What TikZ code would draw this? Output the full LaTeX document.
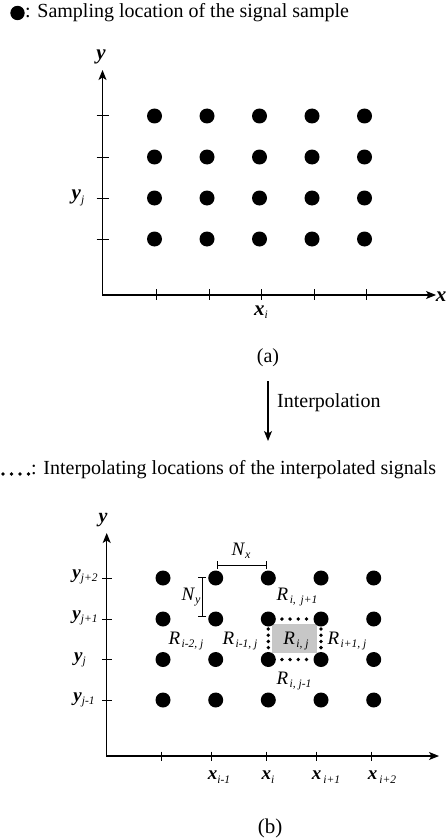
\documentclass[tikz,border=0pt]{standalone}
\usepackage{fontspec}
\setmainfont{Liberation Serif}
\usetikzlibrary{arrows.meta,calc}
\newcommand{\Rlab}[1]{\textit{R}\kern1.5pt\raisebox{-3.5pt}{\fontsize{11.5}{12}\selectfont\textit{#1}}}
\newcommand{\axlab}[2]{\textbf{\textit{#1}}\raisebox{-3.5pt}{\fontsize{11.5}{12}\selectfont\textit{#2}}}
\tikzset{
  sdot/.style={circle,fill=black,inner sep=0pt,minimum size=15pt},
  axisline/.style={line width=1.1pt,{Stealth[length=10pt,width=8pt,inset=2.5pt]}-{Stealth[length=10pt,width=8pt,inset=2.5pt]}},
  tickline/.style={line width=1pt},
  txt/.style={inner sep=0pt,font=\fontsize{20}{22}\selectfont},
  axl/.style={inner sep=0pt,font=\fontsize{19}{20}\selectfont},
  rl/.style={inner sep=0pt,font=\fontsize{19}{20}\selectfont},
  dotline/.style={line width=3.8pt,line cap=round,dash pattern=on 0pt off 8.2pt},
  vdotline/.style={line width=3.8pt,line cap=round,dash pattern=on 0pt off 6.2pt},
  brk/.style={line width=1pt,{Bar[width=8pt]}-{Bar[width=8pt]}}
}
\begin{document}
\begin{tikzpicture}[x=1pt,y=-1pt]
\useasboundingbox (0,0) rectangle (446,840);
% legend 1
\fill (17.5,13) circle (7.2pt);
\node[txt,anchor=west] (leg1) at (25,13) {: Sampling location of the signal sample};
% ---------------- panel (a)
\foreach \c/\x in {1/154.5,2/207,3/259.5,4/312,5/364.5}
  \foreach \r/\y in {1/116,2/157,3/198,4/239}
    \node[sdot] (a\c\r) at (\x,\y) {};
\coordinate (aO) at (102.5,295);
\coordinate (aY) at (102.5,70);
\coordinate (aX) at (436,295);
\draw[axisline] (aY) |- (aX);
\foreach \r in {1,...,4}
  \draw[tickline] ($(aO |- a1\r)+(-6,0)$) -- ++(12,0);
\foreach \c in {1,...,5}
  \draw[tickline] ($(a\c1 |- aO)+(2,-6)$) -- ++(0,11);
\node[axl,font=\fontsize{21}{22}\selectfont] (ay) at (101,57) {\textbf{\textit{y}}};
\node[axl,font=\fontsize{21}{22}\selectfont] (ax) at (441,297) {\textbf{\textit{x}}};
\node[axl,font=\fontsize{21}{22}\selectfont] (ayj) at (78,198) {\axlab{y}{j}};
\node[axl,font=\fontsize{21}{22}\selectfont] (axi) at (261,312) {\axlab{x}{i}};
\node[txt] (capa) at (268,358) {(a)};
% interpolation arrow
\coordinate (iA) at (268,381);
\coordinate (iB) at (268,441);
\draw[line width=1.1pt,-{Stealth[length=10pt,width=8pt,inset=2.5pt]}] (iA) -- (iB);
\node[txt,anchor=west] (interp) at (277,403) {Interpolation};
% legend 2
\foreach \k/\x in {1/3,2/11.5,3/20,4/28.5}
  \fill (\x,474) circle (1.9pt);
\node[txt,anchor=west] (leg2) at (31,470) {: Interpolating locations of the interpolated signals};
% ---------------- panel (b)
\fill[black!22] (271.7,624) rectangle (316.7,652.7);
\foreach \c/\x in {1/163,2/215.7,3/268.3,4/321,5/373.7}
  \foreach \r/\y in {1/578,2/619,3/659.5,4/700}
    \node[sdot] (b\c\r) at (\x,\y) {};
\coordinate (bO) at (106.7,756);
\coordinate (bY) at (106.7,533);
\coordinate (bX) at (439,756);
\draw[axisline] (bY) |- (bX);
\foreach \r in {1,...,4}
  \draw[tickline] ($(bO |- b1\r)+(-4.5,0)$) -- ++(9.5,0);
\foreach \c/\x in {1/161.7,2/211.7,3/266.7,4/316.7,5/371.7}
  \draw[tickline] (\x,751.5) -- ++(0,9.5);
\node[axl,font=\fontsize{20}{22}\selectfont] (by) at (103,520) {\textbf{\textit{y}}};
\node[axl] (byj2) at (85,577) {\axlab{y}{j+2}};
\node[axl] (byj1) at (85,618) {\axlab{y}{j+1}};
\node[axl] (byj0) at (80,660) {\axlab{y}{j}};
\node[axl] (byjm) at (84,700) {\axlab{y}{j-1}};
\node[axl] (bxm) at (219,777) {\axlab{x}{i-1}};
\node[axl] (bxi) at (268,777) {\axlab{x}{i}};
\node[axl] (bxp) at (326,777) {\axlab{x}{\,i+1}};
\node[axl] (bxq) at (382,777) {\axlab{x}{\,i+2}};
\node[txt,font=\fontsize{21}{22}\selectfont] (capb) at (270,828) {(b)};
% dotted interpolation lines
\draw[dotline,shorten <=5.9pt,shorten >=6.3pt] (b32) -- (b42);
\draw[dotline,shorten <=5.9pt,shorten >=6.3pt] (b33) -- (b43);
\draw[vdotline,shorten <=2.3pt,shorten >=3.5pt] (b32) -- (b33);
\draw[vdotline,shorten <=2.3pt,shorten >=3.5pt] (b42) -- (b43);
% Nx, Ny brackets
\draw[brk] ($(b21)+(1,-13)$) -- ($(b31)+(-1.5,-13)$);
\node[rl] (nx) at (241,551) {\textit{N}\raisebox{-3pt}{\fontsize{12}{12}\selectfont\textit{x}}};
\draw[brk] ($(b21)+(-13.4,-1)$) -- ($(b22)+(-13.4,-2)$);
\node[rl] (ny) at (191,597) {\textit{N}\raisebox{-3pt}{\fontsize{12}{12}\selectfont\textit{y}}};
% region labels
\node[rl] (r1) at (297,597) {\Rlab{i,\, j+1}};
\node[rl] (r2) at (186,641) {\Rlab{i-2, j}};
\node[rl] (r3) at (240,641) {\Rlab{i-1, j}};
\node[rl] (r4) at (296,641) {\Rlab{i, j}};
\node[rl] (r5) at (347,641) {\Rlab{i+1, j}};
\node[rl] (r6) at (294,681) {\Rlab{i, j-1}};
\end{tikzpicture}
\end{document}
